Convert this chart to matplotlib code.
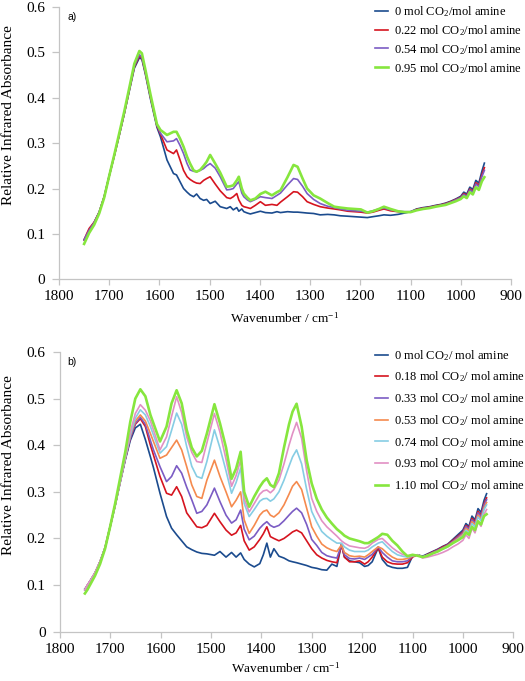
import matplotlib
matplotlib.use('Agg')
import matplotlib.pyplot as plt

plt.rcParams['font.family'] = ['Liberation Serif', 'DejaVu Serif']
plt.rcParams['mathtext.fontset'] = 'custom'
plt.rcParams['mathtext.rm'] = 'Liberation Serif'
plt.rcParams['mathtext.it'] = 'Liberation Serif:italic'
plt.rcParams['mathtext.bf'] = 'Liberation Serif:bold'

# ---------------- data: panel a ----------------
wn_a = [1750, 1745, 1740, 1730, 1720, 1710, 1700, 1690, 1680, 1670,
        1660, 1650, 1640, 1635, 1628, 1618, 1605, 1598, 1585, 1572,
        1566, 1559, 1552, 1545, 1539, 1532, 1526, 1519, 1512, 1506,
        1499, 1489, 1479, 1466, 1459, 1453, 1446, 1442, 1436, 1432,
        1425, 1419, 1409, 1399, 1389, 1376, 1366, 1359, 1345, 1333,
        1325, 1315, 1306, 1293, 1280, 1265, 1252, 1240, 1225, 1212,
        1199, 1186, 1175, 1163, 1153, 1140, 1125, 1112, 1100, 1088,
        1075, 1062, 1050, 1040, 1030, 1020, 1010, 1000, 994, 988,
        982, 976, 970, 964, 958, 953]

a_000 = [0.087, 0.097, 0.108, 0.125, 0.148, 0.182, 0.228, 0.272, 0.318, 0.365,
         0.415, 0.465, 0.488, 0.485, 0.452, 0.398, 0.335, 0.314, 0.263, 0.233,
         0.230, 0.215, 0.200, 0.192, 0.186, 0.182, 0.188, 0.178, 0.174, 0.176,
         0.167, 0.172, 0.160, 0.156, 0.160, 0.153, 0.158, 0.150, 0.155, 0.149,
         0.146, 0.144, 0.147, 0.150, 0.147, 0.146, 0.149, 0.147, 0.149, 0.148,
         0.148, 0.147, 0.146, 0.145, 0.142, 0.143, 0.142, 0.140, 0.139, 0.138,
         0.137, 0.136, 0.138, 0.140, 0.142, 0.141, 0.143, 0.146, 0.149, 0.155,
         0.158, 0.160, 0.163, 0.165, 0.168, 0.172, 0.177, 0.183, 0.192, 0.188,
         0.203, 0.198, 0.218, 0.212, 0.238, 0.256]

a_022 = [0.087, 0.100, 0.112, 0.126, 0.148, 0.182, 0.228, 0.272, 0.318, 0.365,
         0.417, 0.468, 0.492, 0.488, 0.455, 0.402, 0.338, 0.320, 0.285, 0.277,
         0.285, 0.263, 0.240, 0.226, 0.220, 0.215, 0.212, 0.211, 0.218, 0.222,
         0.226, 0.210, 0.195, 0.180, 0.178, 0.182, 0.189, 0.175, 0.163, 0.160,
         0.158, 0.156, 0.163, 0.171, 0.163, 0.165, 0.163, 0.170, 0.182, 0.193,
         0.192, 0.182, 0.171, 0.165, 0.160, 0.157, 0.155, 0.153, 0.150, 0.149,
         0.148, 0.146, 0.148, 0.152, 0.155, 0.151, 0.149, 0.148, 0.148, 0.154,
         0.157, 0.159, 0.162, 0.164, 0.167, 0.171, 0.176, 0.181, 0.189, 0.185,
         0.199, 0.194, 0.213, 0.207, 0.230, 0.246]

a_054 = [0.087, 0.098, 0.108, 0.125, 0.148, 0.182, 0.228, 0.272, 0.318, 0.366,
         0.418, 0.470, 0.495, 0.490, 0.457, 0.404, 0.340, 0.322, 0.303, 0.305,
         0.310, 0.295, 0.277, 0.255, 0.241, 0.238, 0.237, 0.240, 0.244, 0.250,
         0.255, 0.245, 0.226, 0.197, 0.198, 0.200, 0.210, 0.215, 0.190, 0.182,
         0.175, 0.171, 0.176, 0.182, 0.180, 0.178, 0.185, 0.190, 0.208, 0.222,
         0.220, 0.205, 0.189, 0.176, 0.167, 0.161, 0.158, 0.155, 0.152, 0.151,
         0.150, 0.148, 0.151, 0.155, 0.157, 0.153, 0.150, 0.149, 0.149, 0.153,
         0.156, 0.158, 0.161, 0.163, 0.166, 0.170, 0.175, 0.180, 0.187, 0.183,
         0.197, 0.192, 0.210, 0.204, 0.226, 0.240]

a_095 = [0.078, 0.090, 0.102, 0.120, 0.145, 0.180, 0.228, 0.274, 0.322, 0.370,
         0.422, 0.475, 0.503, 0.498, 0.462, 0.408, 0.342, 0.329, 0.318, 0.325,
         0.325, 0.310, 0.292, 0.270, 0.255, 0.240, 0.237, 0.241, 0.250, 0.259,
         0.274, 0.255, 0.235, 0.204, 0.205, 0.207, 0.218, 0.226, 0.200, 0.189,
         0.180, 0.174, 0.178, 0.188, 0.193, 0.185, 0.192, 0.196, 0.225, 0.252,
         0.248, 0.222, 0.200, 0.185, 0.178, 0.168, 0.160, 0.158, 0.156, 0.155,
         0.154, 0.147, 0.150, 0.155, 0.160, 0.155, 0.150, 0.148, 0.148, 0.152,
         0.155, 0.157, 0.160, 0.162, 0.164, 0.168, 0.172, 0.177, 0.183, 0.179,
         0.192, 0.187, 0.203, 0.197, 0.216, 0.225]

labels_a = ['0 mol CO$_2$/mol amine', '0.22 mol CO$_2$/mol amine',
            '0.54 mol CO$_2$/mol amine', '0.95 mol CO$_2$/mol amine']

# ---------------- data: panel b ----------------
wn_b = [1750, 1745, 1740, 1730, 1720, 1710, 1700, 1690, 1680, 1670,
        1660, 1650, 1640, 1630, 1620, 1614, 1601, 1588, 1578, 1568,
        1558, 1548, 1538, 1528, 1518, 1508, 1493, 1482, 1470, 1459,
        1450, 1441, 1434, 1424, 1414, 1403, 1396, 1389, 1382, 1375,
        1365, 1355, 1345, 1338, 1330, 1320, 1310, 1300, 1290, 1280,
        1270, 1260, 1250, 1241, 1235, 1225, 1215, 1205, 1195, 1188,
        1180, 1168, 1160, 1150, 1140, 1130, 1120, 1110, 1100, 1090,
        1080, 1070, 1060, 1050, 1040, 1030, 1020, 1010, 1000, 994,
        988, 982, 976, 970, 964, 958, 953]

b_000 = [0.092, 0.098, 0.108, 0.125, 0.150, 0.180, 0.225, 0.270, 0.320, 0.368,
         0.410, 0.437, 0.445, 0.412, 0.375, 0.352, 0.297, 0.247, 0.222, 0.208,
         0.195, 0.182, 0.176, 0.171, 0.168, 0.167, 0.164, 0.172, 0.160, 0.170,
         0.160, 0.169, 0.155, 0.145, 0.139, 0.146, 0.165, 0.190, 0.160, 0.178,
         0.162, 0.158, 0.152, 0.150, 0.148, 0.145, 0.142, 0.138, 0.136, 0.133,
         0.132, 0.145, 0.140, 0.188, 0.160, 0.152, 0.150, 0.148, 0.140, 0.142,
         0.150, 0.180, 0.155, 0.142, 0.138, 0.136, 0.136, 0.138, 0.162, 0.165,
         0.162, 0.167, 0.172, 0.177, 0.183, 0.188, 0.198, 0.208, 0.218, 0.232,
         0.226, 0.248, 0.240, 0.264, 0.256, 0.282, 0.296]

b_018 = [0.090, 0.100, 0.108, 0.126, 0.150, 0.180, 0.225, 0.272, 0.322, 0.370,
         0.415, 0.445, 0.457, 0.440, 0.400, 0.379, 0.333, 0.297, 0.293, 0.311,
         0.290, 0.255, 0.240, 0.225, 0.223, 0.228, 0.254, 0.236, 0.218, 0.207,
         0.212, 0.228, 0.195, 0.175, 0.182, 0.198, 0.210, 0.225, 0.204, 0.200,
         0.195, 0.200, 0.208, 0.214, 0.218, 0.212, 0.195, 0.178, 0.165, 0.158,
         0.153, 0.150, 0.148, 0.186, 0.160, 0.150, 0.150, 0.152, 0.145, 0.150,
         0.160, 0.180, 0.160, 0.150, 0.146, 0.145, 0.145, 0.148, 0.160, 0.165,
         0.160, 0.166, 0.171, 0.176, 0.182, 0.187, 0.196, 0.205, 0.214, 0.228,
         0.222, 0.243, 0.236, 0.258, 0.250, 0.275, 0.287]

b_033 = [0.090, 0.100, 0.108, 0.126, 0.150, 0.180, 0.225, 0.272, 0.322, 0.370,
         0.415, 0.447, 0.460, 0.445, 0.410, 0.390, 0.354, 0.322, 0.333, 0.356,
         0.340, 0.310, 0.283, 0.254, 0.258, 0.272, 0.308, 0.279, 0.250, 0.233,
         0.240, 0.261, 0.220, 0.197, 0.205, 0.222, 0.230, 0.236, 0.228, 0.224,
         0.228, 0.238, 0.250, 0.258, 0.265, 0.255, 0.230, 0.198, 0.185, 0.170,
         0.163, 0.160, 0.158, 0.186, 0.165, 0.157, 0.156, 0.158, 0.155, 0.160,
         0.166, 0.182, 0.170, 0.160, 0.152, 0.150, 0.150, 0.152, 0.162, 0.165,
         0.160, 0.165, 0.170, 0.175, 0.180, 0.186, 0.194, 0.203, 0.212, 0.226,
         0.220, 0.240, 0.233, 0.255, 0.247, 0.272, 0.283]

b_053 = [0.090, 0.100, 0.108, 0.126, 0.150, 0.180, 0.225, 0.272, 0.322, 0.372,
         0.420, 0.452, 0.465, 0.452, 0.425, 0.408, 0.372, 0.379, 0.395, 0.411,
         0.390, 0.354, 0.315, 0.290, 0.286, 0.325, 0.368, 0.333, 0.300, 0.268,
         0.282, 0.300, 0.240, 0.211, 0.228, 0.250, 0.258, 0.261, 0.250, 0.246,
         0.255, 0.272, 0.295, 0.312, 0.322, 0.305, 0.265, 0.225, 0.205, 0.188,
         0.180, 0.175, 0.172, 0.186, 0.170, 0.163, 0.161, 0.162, 0.160, 0.165,
         0.172, 0.182, 0.178, 0.168, 0.160, 0.155, 0.155, 0.157, 0.162, 0.165,
         0.160, 0.164, 0.168, 0.173, 0.178, 0.184, 0.192, 0.200, 0.209, 0.222,
         0.216, 0.236, 0.229, 0.250, 0.242, 0.266, 0.277]

b_074 = [0.090, 0.100, 0.108, 0.126, 0.150, 0.180, 0.225, 0.272, 0.322, 0.372,
         0.422, 0.458, 0.476, 0.465, 0.440, 0.422, 0.383, 0.397, 0.432, 0.469,
         0.445, 0.397, 0.355, 0.333, 0.329, 0.365, 0.433, 0.394, 0.345, 0.297,
         0.320, 0.351, 0.275, 0.247, 0.262, 0.280, 0.285, 0.286, 0.280, 0.285,
         0.300, 0.325, 0.355, 0.375, 0.390, 0.360, 0.305, 0.258, 0.235, 0.215,
         0.205, 0.197, 0.190, 0.190, 0.182, 0.175, 0.172, 0.172, 0.172, 0.175,
         0.182, 0.190, 0.193, 0.182, 0.172, 0.165, 0.162, 0.160, 0.163, 0.165,
         0.160, 0.164, 0.168, 0.172, 0.177, 0.182, 0.190, 0.198, 0.206, 0.218,
         0.212, 0.232, 0.225, 0.246, 0.238, 0.262, 0.272]

b_093 = [0.090, 0.100, 0.108, 0.126, 0.150, 0.180, 0.225, 0.272, 0.322, 0.375,
         0.428, 0.468, 0.487, 0.475, 0.452, 0.433, 0.390, 0.418, 0.462, 0.504,
         0.470, 0.418, 0.385, 0.365, 0.363, 0.405, 0.468, 0.428, 0.370, 0.312,
         0.335, 0.368, 0.285, 0.257, 0.275, 0.295, 0.302, 0.304, 0.298, 0.305,
         0.325, 0.360, 0.400, 0.425, 0.449, 0.415, 0.345, 0.286, 0.258, 0.238,
         0.225, 0.215, 0.205, 0.195, 0.190, 0.184, 0.182, 0.180, 0.179, 0.182,
         0.190, 0.198, 0.200, 0.190, 0.180, 0.172, 0.166, 0.163, 0.164, 0.165,
         0.158, 0.160, 0.163, 0.166, 0.170, 0.175, 0.182, 0.188, 0.196, 0.208,
         0.200, 0.222, 0.212, 0.235, 0.226, 0.252, 0.262]

b_110 = [0.082, 0.090, 0.100, 0.120, 0.145, 0.178, 0.225, 0.275, 0.330, 0.385,
         0.450, 0.500, 0.520, 0.505, 0.465, 0.447, 0.408, 0.440, 0.490, 0.518,
         0.490, 0.433, 0.395, 0.376, 0.388, 0.425, 0.488, 0.447, 0.395, 0.328,
         0.350, 0.386, 0.300, 0.268, 0.290, 0.311, 0.322, 0.329, 0.315, 0.310,
         0.340, 0.395, 0.445, 0.472, 0.489, 0.440, 0.368, 0.318, 0.285, 0.262,
         0.245, 0.232, 0.220, 0.212, 0.206, 0.200, 0.197, 0.194, 0.190, 0.190,
         0.195, 0.203, 0.210, 0.208, 0.195, 0.185, 0.172, 0.162, 0.165, 0.163,
         0.160, 0.163, 0.168, 0.172, 0.178, 0.183, 0.190, 0.196, 0.203, 0.213,
         0.208, 0.225, 0.218, 0.237, 0.230, 0.248, 0.252]

labels_b = ['0 mol CO$_2$/ mol amine', '0.18 mol CO$_2$/ mol amine',
            '0.33 mol CO$_2$/ mol amine', '0.53 mol CO$_2$/ mol amine',
            '0.74 mol CO$_2$/ mol amine', '0.93 mol CO$_2$/ mol amine',
            '1.10 mol CO$_2$/ mol amine']

x_ticks = [1800, 1700, 1600, 1500, 1400, 1300, 1200, 1100, 1000, 900]
y_ticks = [0, 0.1, 0.2, 0.3, 0.4, 0.5, 0.6]
y_tick_labels = ['0', '0.1', '0.2', '0.3', '0.4', '0.5', '0.6']

# ---------------- styles ----------------
c_blue = '#1b4b8e'
c_red = '#d6141f'
c_purple = '#7b5cc4'
c_orange = '#f58a4e'
c_lblue = '#86cde4'
c_pink = '#e190c4'
c_green = '#86e63e'

W, H = 525, 681
fig = plt.figure(figsize=(W / 100, H / 100), dpi=100)


def px_axes(left, right, top, bottom):
    return fig.add_axes([left / W, 1 - bottom / H, (right - left) / W, (bottom - top) / H])


def style(ax):
    ax.set_xlim(1800, 900)
    ax.set_ylim(0, 0.6)
    ax.set_xticks(x_ticks)
    ax.set_xticklabels([str(t) for t in x_ticks])
    ax.set_yticks(y_ticks)
    ax.set_yticklabels(y_tick_labels)
    for s in ['top', 'right']:
        ax.spines[s].set_visible(False)
    for s in ['left', 'bottom']:
        ax.spines[s].set_color('#c4c4c4')
        ax.spines[s].set_linewidth(0.9)
    ax.tick_params(axis='both', colors='#c4c4c4', labelcolor='black', labelsize=11,
                   width=0.9, direction='out')
    ax.tick_params(axis='x', length=4, pad=4)
    ax.tick_params(axis='y', length=5, pad=5)
    ax.patch.set_alpha(0)


ax_a = px_axes(59, 511, 7, 279.3)
ax_b = px_axes(59.7, 513.3, 352, 631.7)

series_a = [(a_000, c_blue, 1.2), (a_022, c_red, 1.2), (a_054, c_purple, 1.2), (a_095, c_green, 1.9)]
for (vals, col, lw), lab in zip(series_a, labels_a):
    ax_a.plot(wn_a, vals, color=col, lw=lw, label=lab, solid_joinstyle='round')

series_b = [(b_000, c_blue, 1.2), (b_018, c_red, 1.2), (b_033, c_purple, 1.2),
            (b_053, c_orange, 1.2), (b_074, c_lblue, 1.2), (b_093, c_pink, 1.2),
            (b_110, c_green, 1.9)]
for (vals, col, lw), lab in zip(series_b, labels_b):
    ax_b.plot(wn_b, vals, color=col, lw=lw, label=lab, solid_joinstyle='round')

for ax in (ax_a, ax_b):
    style(ax)

ax_a.legend(loc='upper left', bbox_to_anchor=(375 / W, 1 - 4 / H), bbox_transform=fig.transFigure,
            frameon=False, borderpad=0, borderaxespad=0, handlelength=1.0, handletextpad=0.5,
            labelspacing=0.33, prop={'size': 9})
ax_b.legend(loc='upper left', bbox_to_anchor=(375 / W, 1 - 348 / H), bbox_transform=fig.transFigure,
            frameon=False, borderpad=0, borderaxespad=0, handlelength=1.0, handletextpad=0.5,
            labelspacing=0.55, prop={'size': 9})

fig.text(68 / W, 1 - 16.5 / H, 'a)', family=['Liberation Sans', 'DejaVu Sans'], fontsize=7.5,
         ha='left', va='center')
fig.text(67 / W, 1 - 362 / H, 'b)', family=['Liberation Sans', 'DejaVu Sans'], fontsize=7.5,
         ha='left', va='center')

fig.text(9 / W, 1 - 115 / H, 'Relative Infrared Absorbance', rotation=90, fontsize=11,
         ha='center', va='center')
fig.text(9 / W, 1 - 465 / H, 'Relative Infrared Absorbance', rotation=90, fontsize=11,
         ha='center', va='center')

fig.text(285 / W, 1 - 318 / H, 'Wavenumber / cm$^{-1}$', fontsize=9.5, ha='center', va='center')
fig.text(286 / W, 1 - 668 / H, 'Wavenumber / cm$^{-1}$', fontsize=9.5, ha='center', va='center')

fig.savefig('out.png', dpi=100)
